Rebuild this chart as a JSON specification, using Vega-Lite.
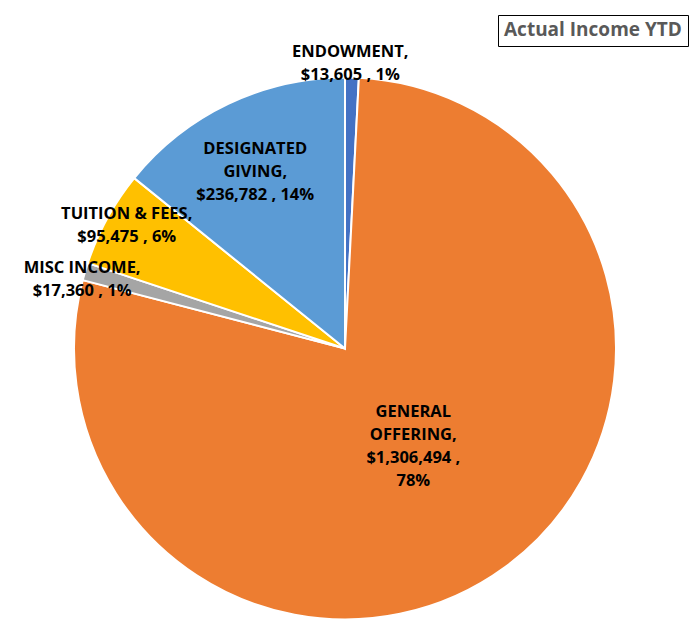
{
  "$schema": "https://vega.github.io/schema/vega-lite/v6.json",
  "width": 695,
  "height": 627,
  "autosize": {"type": "fit", "contains": "padding"},
  "padding": {"top": 70, "left": 0, "right": 5, "bottom": 0},
  "background": "white",
  "config": {"view": {"stroke": null}, "font": "Open Sans"},
  "data": {
    "values": [
      {"seq": 1, "category": "ENDOWMENT", "amount": 13605, "label": ["ENDOWMENT,", "$13,605 , 1%"]},
      {"seq": 2, "category": "GENERAL OFFERING", "amount": 1306494, "label": ["GENERAL", "OFFERING,", "$1,306,494 ,", "78%"]},
      {"seq": 3, "category": "MISC INCOME", "amount": 17360, "label": ["MISC INCOME,", "$17,360 , 1%"]},
      {"seq": 4, "category": "TUITION & FEES", "amount": 95475, "label": ["TUITION & FEES,", "$95,475 , 6%"]},
      {"seq": 5, "category": "DESIGNATED GIVING", "amount": 236782, "label": ["DESIGNATED", "GIVING,", "$236,782 , 14%"]}
    ]
  },
  "encoding": {
    "theta": {"field": "amount", "type": "quantitative", "stack": true},
    "order": {"field": "seq", "type": "quantitative"}
  },
  "layer": [
    {
      "mark": {"type": "arc", "outerRadius": 271, "stroke": "white", "strokeWidth": 2},
      "encoding": {
        "color": {
          "field": "category",
          "type": "nominal",
          "scale": {
            "domain": ["ENDOWMENT", "GENERAL OFFERING", "MISC INCOME", "TUITION & FEES", "DESIGNATED GIVING"],
            "range": ["#4472C4", "#ED7D31", "#A5A5A5", "#FFC000", "#5B9BD5"]
          },
          "legend": {
            "values": [],
            "title": "Actual Income YTD",
            "orient": "none",
            "legendX": 498,
            "legendY": -55,
            "strokeColor": "black",
            "padding": 6,
            "titleFont": "Open Sans",
            "titleFontSize": 19,
            "titleFontWeight": "bold",
            "titleColor": "#595959",
            "titlePadding": 0
          }
        }
      }
    },
    {
      "mark": {"type": "text", "radius": 285, "dy": -11.5, "dx": -2, "fontWeight": "bold", "fontSize": 16.5, "lineHeight": 23, "color": "black"},
      "encoding": {
        "text": {"condition": {"test": "datum.category === 'ENDOWMENT'", "field": "label"}, "value": ""}
      }
    },
    {
      "mark": {"type": "text", "radius": 270, "dy": -4, "dx": -4, "fontWeight": "bold", "fontSize": 16.5, "lineHeight": 23, "color": "black"},
      "encoding": {
        "text": {"condition": {"test": "datum.category === 'MISC INCOME'", "field": "label"}, "value": ""}
      }
    },
    {
      "mark": {"type": "text", "radius": 251, "dy": -14, "dx": 2, "fontWeight": "bold", "fontSize": 16.5, "lineHeight": 23, "color": "black"},
      "encoding": {
        "text": {"condition": {"test": "datum.category === 'TUITION & FEES'", "field": "label"}, "value": ""}
      }
    },
    {
      "mark": {"type": "text", "radius": 199, "dy": -20, "dx": -4, "fontWeight": "bold", "fontSize": 16.5, "lineHeight": 23, "color": "black"},
      "encoding": {
        "text": {"condition": {"test": "datum.category === 'DESIGNATED GIVING'", "field": "label"}, "value": ""}
      }
    },
    {
      "mark": {"type": "text", "radius": 119, "dy": -32.5, "dx": -2, "fontWeight": "bold", "fontSize": 16.5, "lineHeight": 23, "color": "black"},
      "encoding": {
        "text": {"condition": {"test": "datum.category === 'GENERAL OFFERING'", "field": "label"}, "value": ""}
      }
    }
  ]
}
